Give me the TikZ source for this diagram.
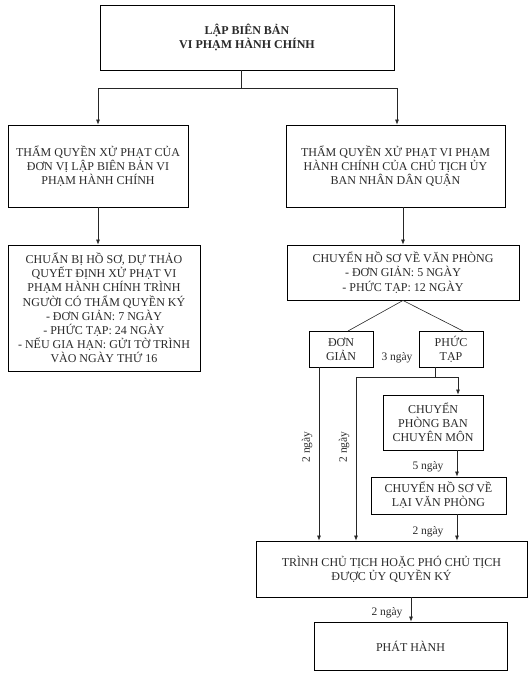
\documentclass[tikz,border=0pt]{standalone}
\usepackage{fontspec}
\setmainfont{Liberation Serif}
\usetikzlibrary{arrows.meta,calc}
\definecolor{txt}{HTML}{2A2A2A}
\begin{document}
\begin{tikzpicture}[x=1pt,y=-1pt,
  box/.style={draw=black,line width=0.9pt,fill=white,align=center,inner sep=2pt,
    text=txt,font=\fontsize{12}{14.2}\selectfont},
  lbl/.style={text=txt,font=\fontsize{11.5}{12}\selectfont,inner sep=1pt},
  conn/.style={draw=black!85,line width=0.6pt},
  arr/.style={conn,-{Latex[length=5pt,width=4pt]}}]
\useasboundingbox (0,0) rectangle (532,675);
% boxes
\node[box,minimum width=294pt,minimum height=65pt,font=\bfseries\fontsize{12}{13.5}\selectfont] (top) at (247,37.5) {LẬP BIÊN BẢN\\VI PHẠM HÀNH CHÍNH};
\node[box,minimum width=180pt,minimum height=82pt] (l1) at (98,166) {THẨM QUYỀN XỬ PHẠT CỦA\\ĐƠN VỊ LẬP BIÊN BẢN VI\\PHẠM HÀNH CHÍNH};
\node[box,minimum width=219pt,minimum height=82pt] (r1) at (395.5,166) {THẨM QUYỀN XỬ PHẠT VI PHẠM\\HÀNH CHÍNH CỦA CHỦ TỊCH ỦY\\BAN NHÂN DÂN QUẬN};
\node[box,minimum width=192pt,minimum height=126pt] (l2) at (104,308) {CHUẨN BỊ HỒ SƠ, DỰ THẢO\\QUYẾT ĐỊNH XỬ PHẠT VI\\PHẠM HÀNH CHÍNH TRÌNH\\NGƯỜI CÓ THẨM QUYỀN KÝ\\- ĐƠN GIẢN: 7 NGÀY\\- PHỨC TẠP: 24 NGÀY\\- NẾU GIA HẠN: GỬI TỜ TRÌNH\\VÀO NGÀY THỨ 16};
\node[box,minimum width=232pt,minimum height=55pt] (r2) at (403,272.5) {CHUYỂN HỒ SƠ VỀ VĂN PHÒNG\\- ĐƠN GIẢN: 5 NGÀY\\- PHỨC TẠP: 12 NGÀY};
\node[box,minimum width=64pt,minimum height=36pt] (dg) at (341,349) {ĐƠN\\GIẢN};
\node[box,minimum width=64pt,minimum height=36pt] (pt) at (451,349) {PHỨC\\TẠP};
\node[box,minimum width=100pt,minimum height=55pt] (cpb) at (433,422.5) {CHUYỂN\\PHÒNG BAN\\CHUYÊN MÔN};
\node[box,minimum width=135pt,minimum height=37pt] (chs) at (438.5,495.5) {CHUYỂN HỒ SƠ VỀ\\LẠI VĂN PHÒNG};
\node[box,minimum width=271pt,minimum height=56pt] (tr) at (391.5,569) {TRÌNH CHỦ TỊCH HOẶC PHÓ CHỦ TỊCH\\ĐƯỢC ỦY QUYỀN KÝ};
\node[box,minimum width=193pt,minimum height=48pt] (ph) at (410.5,646) {PHÁT HÀNH};
% junction coordinates
\coordinate (j0) at (241,88);
\coordinate (jl) at (98,88);
\coordinate (jr) at (397,88);
\coordinate (ja) at (403,0);
\coordinate (jdg) at (348,331);
\coordinate (jpt) at (463,331);
\coordinate (jpb) at (435,377);
\coordinate (jpl) at (356,377);
\coordinate (jpr) at (458,377);
\coordinate (jdd) at (319,0);
\coordinate (jc) at (457,0);
\coordinate (jt) at (411,0);
% connectors
\draw[conn] (top.south -| j0) -- (j0);
\draw[conn] (jl) -- (jr);
\draw[arr] (jl) -- (l1.north -| jl);
\draw[arr] (jr) -- (r1.north -| jr);
\draw[arr] (l1.south -| jl) -- (l2.north -| jl);
\draw[arr] (r1.south -| ja) -- (r2.north -| ja);
\draw[conn] (r2.south -| ja) -- (jdg);
\draw[conn] (r2.south -| ja) -- (jpt);
\draw[conn] (pt.south -| jpb) -- (jpb);
\draw[conn] (jpl) -- (jpr);
\draw[arr] (jpr) -- (cpb.north -| jpr);
\draw[arr] (jpl) -- (tr.north -| jpl);
\draw[arr] (dg.south -| jdd) -- (tr.north -| jdd);
\draw[arr] (cpb.south -| jc) -- (chs.north -| jc);
\draw[arr] (chs.south -| jc) -- (tr.north -| jc);
\draw[arr] (tr.south -| jt) -- (ph.north -| jt);
% labels
\node[lbl] (l3) at (397,358) {3 ngày};
\node[lbl] (l5) at (428,467) {5 ngày};
\node[lbl] (l2a) at (428,532) {2 ngày};
\node[lbl] (l2b) at (387,613) {2 ngày};
\node[lbl,rotate=90] (l2c) at (307,447) {2 ngày};
\node[lbl,rotate=90] (l2d) at (344,447) {2 ngày};
\end{tikzpicture}
\end{document}
